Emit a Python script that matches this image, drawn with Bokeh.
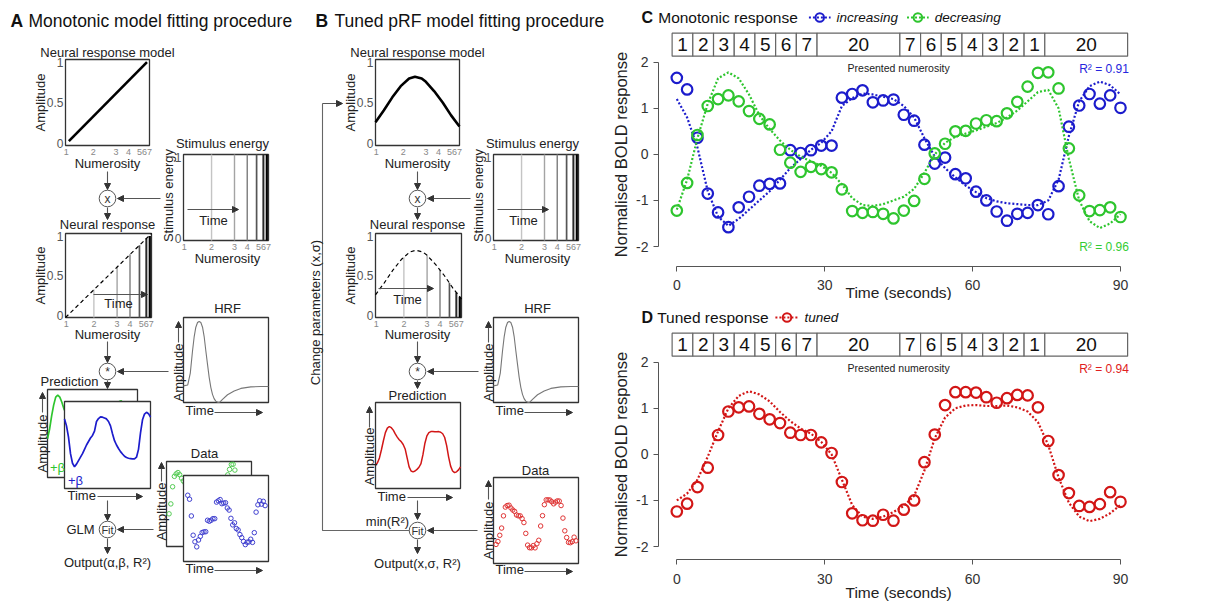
import numpy as np
from bokeh.plotting import figure
from bokeh.models import (Range1d, Arrow, NormalHead, ColumnDataSource, LinearAxis,
                          FixedTicker, CustomJSTickFormatter)
from bokeh.layouts import row, column
from bokeh.core.properties import value
from bokeh.embed import file_html
from bokeh.resources import INLINE

FONT = "Liberation Sans"

# ---------------- data ----------------
time_step = 90 / 43
time_s = [round(i * time_step, 3) for i in range(44)]

increasing_data = [1.66, 1.41, 0.36, -0.85, -1.26, -1.58, -1.15, -0.92, -0.68, -0.64,
                   -0.63, 0.09, 0.03, 0.09, 0.19, 0.19, 1.23, 1.31, 1.39, 1.13,
                   1.17, 1.19, 0.86, 0.73, 0.21, -0.20, -0.07, -0.43, -0.52, -0.81,
                   -1.00, -1.24, -1.44, -1.29, -1.27, -1.10, -1.30, -0.69, 0.60, 1.06,
                   1.31, 1.10, 1.28, 1.01]
increasing_fit = [1.2, 0.8, 0.15, -0.8, -1.35, -1.55, -1.4, -1.2, -1.0, -0.8,
                  -0.55, -0.3, -0.1, 0.1, 0.25, 0.5, 1.05, 1.22, 1.32, 1.3,
                  1.25, 1.2, 1.05, 0.8, 0.35, -0.05, -0.3, -0.5, -0.68, -0.82,
                  -0.95, -1.02, -1.06, -1.08, -1.1, -1.1, -1.0, -0.55, 0.4, 1.15,
                  1.48, 1.58, 1.5, 1.3]
decreasing_data = [-1.22, -0.62, 0.42, 1.05, 1.20, 1.28, 1.15, 0.94, 0.77, 0.65,
                   0.10, -0.18, -0.38, -0.27, -0.32, -0.39, -0.76, -1.23, -1.27, -1.25,
                   -1.29, -1.39, -1.22, -1.01, -0.53, 0.02, 0.23, 0.50, 0.51, 0.67,
                   0.74, 0.72, 0.89, 1.14, 1.47, 1.77, 1.78, 1.43, 0.13, -0.89,
                   -1.23, -1.21, -1.15, -1.36]
decreasing_fit = [-1.2, -0.55, 0.35, 1.1, 1.65, 1.78, 1.65, 1.3, 0.85, 0.55,
                  0.3, 0.1, -0.05, -0.15, -0.25, -0.4, -0.65, -0.95, -1.1, -1.12,
                  -1.08, -1.0, -0.92, -0.75, -0.4, 0.0, 0.25, 0.38, 0.45, 0.52,
                  0.6, 0.68, 0.8, 0.95, 1.15, 1.35, 1.4, 1.0, -0.1, -1.0,
                  -1.45, -1.6, -1.5, -1.3]
tuned_data = [-1.24, -1.07, -0.71, -0.29, 0.42, 0.93, 1.02, 1.04, 0.88, 0.76,
              0.68, 0.47, 0.42, 0.42, 0.26, 0.03, -0.60, -1.28, -1.43, -1.44,
              -1.31, -1.44, -1.20, -1.00, -0.17, 0.43, 1.07, 1.35, 1.35, 1.34,
              1.24, 1.12, 1.22, 1.29, 1.28, 1.02, 0.29, -0.45, -0.84, -1.12,
              -1.14, -1.08, -0.82, -1.03]
tuned_fit = [-1.0, -0.85, -0.55, -0.05, 0.5, 1.0, 1.27, 1.37, 1.3, 1.15,
             0.92, 0.72, 0.56, 0.45, 0.27, 0.0, -0.55, -1.1, -1.35, -1.4,
             -1.35, -1.25, -1.12, -0.9, -0.35, 0.35, 0.8, 1.0, 1.06, 1.07,
             1.05, 1.05, 1.06, 1.02, 0.93, 0.7, 0.2, -0.5, -1.05, -1.35,
             -1.45, -1.4, -1.28, -1.1]

numerosity_labels = ["1", "2", "3", "4", "5", "6", "7", "20",
                     "7", "6", "5", "4", "3", "2", "1", "20"]
numerosity_durations = [4.2] * 7 + [16.8] + [4.2] * 7 + [16.8]
numerosity_start = -0.95

y_ticks = [-2, -1, 0, 1, 2]
x_ticks = [0, 30, 60, 90]

# schematic panels (A, B)
numerosities = [1, 2, 3, 4, 5, 6, 7]
numerosity_axis_pos = [0.01, 0.33, 0.60, 0.75, 0.86, 0.94, 0.98]
stim_numerosities = [2, 3, 4, 5, 6, 7]
mono_model_pos = [0.04, 0.97]
mono_model_amp = [0.05, 0.97]
tuned_model_pos = [0.0, 0.1, 0.2, 0.3, 0.4, 0.47, 0.55, 0.6, 0.7, 0.8, 0.9, 1.0]
tuned_model_amp = [0.27, 0.41, 0.56, 0.69, 0.78, 0.80, 0.78, 0.74, 0.63, 0.50, 0.35, 0.22]
hrf_time = [0.0, 0.05, 0.08, 0.106, 0.126, 0.145, 0.165, 0.184, 0.204, 0.224, 0.243, 0.263,
            0.283, 0.302, 0.322, 0.341, 0.36, 0.38, 0.408, 0.43, 0.459, 0.518, 0.596,
            0.675, 0.792, 0.91, 1.0]
hrf_amp = [0.0, 0.01, 0.15, 0.41, 0.58, 0.69, 0.745, 0.757, 0.745, 0.69, 0.58, 0.41,
           0.25, 0.10, -0.02, -0.10, -0.15, -0.18, -0.196, -0.19, -0.16, -0.105, -0.06,
           -0.03, -0.012, -0.008, -0.008]

BLUE = "#1c1ccc"
GREEN = "#2ec52e"
RED = "#d21616"
STIM_COLORS = ["#c4c4c4", "#a4a4a4", "#848484", "#555555", "#2a2a2a", "#000000"]
STIM_WIDTHS = [1.4, 1.4, 1.5, 1.7, 2.0, 2.2]
ROT = np.pi / 2

# ====================== panels A & B (schematics) ======================
ab = figure(width=610, height=603, x_range=Range1d(0, 610), y_range=Range1d(603, 0),
            output_backend="svg", toolbar_location=None, min_border=0,
            x_axis_location=None, y_axis_location=None, outline_line_color=None)
ab.grid.grid_line_color = None

arrow_src = dict(x_start=[], y_start=[], x_end=[], y_end=[])


def arr(x0, y0, x1, y1):
    arrow_src["x_start"].append(x0)
    arrow_src["y_start"].append(y0)
    arrow_src["x_end"].append(x1)
    arrow_src["y_end"].append(y1)


def t(x, y, s, size=13, color="#222", align="center", baseline="middle", angle=0.0,
      style="normal", fig=None):
    f = ab if fig is None else fig
    f.text(x=[x], y=[y], text=[s], text_font=value(FONT), text_font_size=f"{size}px",
           text_color=color, text_align=align, text_baseline=baseline, angle=angle,
           text_font_style=style)


def box(b, lw=1.3):
    ab.quad(left=[b[0]], right=[b[0] + b[2]], top=[b[1]], bottom=[b[1] + b[3]],
            fill_color="white", line_color="#333", line_width=lw)


def bx(b, f):
    return b[0] + np.asarray(f, dtype=float) * b[2]


def by(b, f):
    return b[1] + b[3] * (1 - np.asarray(f, dtype=float))


def nf(n):
    return np.interp(n, numerosities, numerosity_axis_pos)


def circ(x, y, s, size=12):
    ab.circle(x=[x], y=[y], radius=8.3, fill_color="white", line_color="#555", line_width=1)
    t(x, y, s, size=size, color="#333")


def num_axes(b, ylabels=("1", "0.5", "0"), yfr=(0.97, 0.5, 0.02), lx=None):
    lx = b[0] - 2 if lx is None else lx
    for s, f in zip(ylabels, yfr):
        t(lx, float(by(b, f)), s, size=12, color="#555", align="right")
    for s, n in zip(["1", "2", "3", "4", "567"], [1, 2, 3, 4, 6]):
        t(float(bx(b, nf(n))), b[1] + b[3] + 6, s, size=9, color="#888")


def series_xy(b, vals, ylo, yhi, x0=0.0, x1=1.0):
    xf = x0 + (x1 - x0) * np.asarray(time_s) / 90.0
    yf = (np.asarray(vals) - ylo) / (yhi - ylo)
    return bx(b, xf), by(b, yf)


def panel(ox, tuned, letter, letter_x, title, title_x):
    cx = ox + 107
    M = (ox + 65, 59, 84, 86)
    N = (ox + 65, 233, 86, 84)
    S = (ox + 183, 154, 85, 86)
    H = (ox + 183, 317, 85, 85)
    mpos = tuned_model_pos if tuned else mono_model_pos
    mamp = tuned_model_amp if tuned else mono_model_amp

    t(letter_x, 20, letter, size=17.5, style="bold", align="left", color="#111")
    t(title_x, 20, title, size=17.5, align="left", color="#111")

    # neural response model
    t(cx, 52, "Neural response model")
    box(M)
    ab.line(bx(M, mpos), by(M, mamp), line_color="black", line_width=2.6)
    num_axes(M)
    t(ox + 40, 102, "Amplitude", angle=ROT)
    t(cx, 163, "Numerosity")
    arr(cx, 171, cx, 189)
    circ(cx, 198, "x")
    arr(ox + 160, 198, ox + 117, 198)
    arr(cx, 207, cx, 219)

    # stimulus energy
    t(ox + 222, 143, "Stimulus energy")
    box(S)
    spos = nf(stim_numerosities)
    ab.segment(x0=bx(S, spos), y0=[by(S, 0)] * 6, x1=bx(S, spos), y1=[by(S, 1)] * 6,
               line_color=STIM_COLORS, line_width=STIM_WIDTHS)
    arr(ox + 187, 209, ox + 238, 209)
    t(ox + 213, 220, "Time")
    num_axes(S, ylabels=("1", "0"), yfr=(0.97, 0.02), lx=ox + 181)
    t(ox + 168, 195, "Stimulus energy", angle=ROT)
    t(ox + 227, 258, "Numerosity")

    # neural response
    t(cx, 224, "Neural response")
    box(N)
    heights = np.interp(spos, mpos, mamp)
    ab.segment(x0=bx(N, spos), y0=[by(N, 0)] * 6, x1=bx(N, spos), y1=by(N, heights),
               line_color=STIM_COLORS, line_width=STIM_WIDTHS)
    if tuned:
        ab.line(bx(N, mpos), by(N, mamp), line_color="black", line_width=1.2, line_dash="4 3")
        arr(ox + 68, 288, ox + 123, 288)
        t(ox + 97, 299, "Time")
    else:
        ab.line(bx(N, [0.0, 1.0]), by(N, [0.0, 1.0]), line_color="black", line_width=1.2,
                line_dash="4 3")
        arr(ox + 93, 294, ox + 147, 294)
        t(ox + 118, 303, "Time")
    num_axes(N)
    t(ox + 40, 275, "Amplitude", angle=ROT)
    t(cx, 334, "Numerosity")

    # HRF
    t(ox + 227, 308, "HRF")
    box(H)
    ab.line(bx(H, hrf_time), by(H, 0.196 + np.asarray(hrf_amp)), line_color="#777",
            line_width=1.1)
    t(ox + 178, 372, "Amplitude", angle=ROT)
    arr(ox + 178, 342, ox + 178, 321)
    t(ox + 185, 410, "Time", align="left")
    arr(ox + 214, 412, ox + 262, 412)

    # convolution
    arr(cx, 341, cx, 362)
    circ(cx, 371, "*")
    arr(ox + 168, 371, ox + 117, 371)
    arr(cx, 380, cx, 388)


# ---- Panel A ----
panel(0, False, "A", 10, "Monotonic model fitting procedure", 28)
PB = (47, 389, 90, 88)
PF = (64, 401, 86, 87)
t(69, 381, "Prediction")
box(PB)
xs, ys = series_xy(PB, decreasing_fit, -3.85, 2.17, 0.0, 0.98)
ab.line(xs, ys, line_color=GREEN, line_width=1.7)
box(PF)
xs, ys = series_xy(PF, increasing_fit, -2.8, 2.2)
ab.line(xs, ys, line_color=BLUE, line_width=1.7)
t(57, 467, "+β", color=GREEN)
t(75, 480, "+β", color=BLUE)
t(42, 443, "Amplitude", angle=ROT)
arr(42, 412, 42, 392)
t(67, 495, "Time", align="left")
arr(97, 496, 142, 496)
arr(107, 500, 107, 520)
t(80, 529, "GLM")
circ(107, 529, "Fit", size=11)
arr(153, 529, 117, 529)
arr(107, 538, 107, 553)
t(107, 562, "Output(α,β, R²)")

DB = (166, 461, 85, 85)
DF = (183, 475, 85, 86)
t(204, 453, "Data")
box(DB)
xs, ys = series_xy(DB, decreasing_data, -3.2, 1.95, 0.03, 0.93)
ab.scatter(xs, ys, marker="circle", size=4.5, fill_color=None, line_color="#55cc55", line_width=1)
box(DF)
xs, ys = series_xy(DF, increasing_data, -2.5, 2.9, 0.05, 0.96)
ab.scatter(xs, ys, marker="circle", size=4.5, fill_color=None, line_color="#4040d0", line_width=1)
t(161, 511, "Amplitude", angle=ROT)
arr(161, 481, 161, 462)
t(185, 568, "Time", align="left")
arr(214, 570, 262, 570)

# ---- Panel B ----
ox = 310
panel(ox, True, "B", 315, "Tuned pRF model fitting procedure", 334)
PR = (ox + 65, 402, 85, 86)
t(ox + 107, 395, "Prediction")
box(PR)
xs, ys = series_xy(PR, tuned_fit, -2.42, 2.84)
ab.line(xs, ys, line_color=RED, line_width=1.5)
t(ox + 59, 456, "Amplitude", angle=ROT)
arr(ox + 59, 427, ox + 59, 406)
t(ox + 67, 496, "Time", align="left")
arr(ox + 97, 497, ox + 142, 497)
arr(ox + 107, 500, ox + 107, 519)
t(ox + 77, 521, "min(R²)")
circ(ox + 107, 530, "Fit", size=11)
arr(ox + 167, 530, ox + 117, 530)
arr(ox + 107, 539, ox + 107, 553)
t(ox + 107, 563, "Output(x,σ, R²)")
ab.line([ox + 99, ox + 12, ox + 12], [530, 530, 103], line_color="#666", line_width=1.1)
arr(ox + 12, 103, ox + 32, 103)
t(ox + 5, 312, "Change parameters (x,σ)", angle=ROT)

DR = (ox + 183, 477, 85, 86)
t(ox + 225, 470, "Data")
box(DR)
xs, ys = series_xy(DR, tuned_data, -2.35, 2.65, 0.03, 0.97)
ab.scatter(xs, ys, marker="circle", size=4.5, fill_color=None, line_color="#e03535", line_width=1)
t(ox + 178, 530, "Amplitude", angle=ROT)
arr(ox + 178, 499, ox + 178, 480)
t(ox + 185, 569, "Time", align="left")
arr(ox + 214, 571, ox + 262, 571)

ab.add_layout(Arrow(end=NormalHead(size=6, fill_color="#333", line_color="#333", line_width=1),
                    source=ColumnDataSource(arrow_src), x_start="x_start", y_start="y_start",
                    x_end="x_end", y_end="y_end", line_color="#555", line_width=1.1))


# ====================== panels C & D (responses) ======================
def response_panel(height, letter, title, title_x, series, legend, r2, xaxis_y, xlabel_y):
    ybot = 2 - (height - 61.7) / 46.08
    p = figure(width=596, height=height, x_range=Range1d(-13.45, 107.45),
               y_range=Range1d(ybot, 3.339), output_backend="svg", toolbar_location=None,
               min_border=0, x_axis_location=None, y_axis_location=None,
               outline_line_color=None)
    p.grid.grid_line_color = None
    fmt = CustomJSTickFormatter(code="return (tick < 0 ? '-' : '') + Math.abs(tick).toString();")
    common = dict(axis_line_color="#555", major_tick_line_color="#555", major_tick_out=5,
                  major_tick_in=0, minor_tick_line_color=None, major_label_text_font=FONT,
                  major_label_text_font_size="14px", major_label_text_color="#333",
                  axis_label_text_font=FONT, axis_label_text_font_style="normal",
                  axis_label_text_color="#222")
    yax = LinearAxis(fixed_location=-3.71, bounds=(-2, 2), ticker=FixedTicker(ticks=y_ticks),
                     formatter=fmt, axis_label="Normalised BOLD response",
                     axis_label_text_font_size="16.5px", axis_label_standoff=3,
                     major_label_standoff=5, **common)
    p.add_layout(yax, "left")
    xax = LinearAxis(fixed_location=xaxis_y, bounds=(0, 90), ticker=FixedTicker(ticks=x_ticks),
                     formatter=fmt, major_label_standoff=9, **common)
    p.add_layout(xax, "below")

    # numerosity strip
    edges = numerosity_start + np.concatenate([[0.0], np.cumsum(numerosity_durations)])
    p.quad(left=edges[:-1], right=edges[1:], bottom=2.13, top=2.63, fill_color="white",
           line_color="#666", line_width=1.2)
    p.text(x=(edges[:-1] + edges[1:]) / 2, y=[2.375] * len(numerosity_labels),
           text=numerosity_labels, text_font=value(FONT), text_font_size="19px",
           text_color="#111", text_align="center", text_baseline="middle")
    t(45, 1.87, "Presented numerosity", size=10.5, color="#222", fig=p)

    for vals, fit, color in series:
        p.line(time_s, fit, line_color=color, line_width=2.2, line_dash="2 2")
        p.scatter(time_s, vals, marker="circle", size=10.5, fill_color=None,
                  line_color=color, line_width=2.2)

    # title + inline legend
    t(-7.16, 2.97, letter, size=16, style="bold", align="left", color="#111", fig=p)
    t(title_x, 2.97, title, size=15.5, align="left", color="#111", fig=p)
    for x0, x1, label, color in legend:
        p.line([x0, x1], [2.97, 2.97], line_color=color, line_width=2, line_dash="2 2")
        p.scatter([(x0 + x1) / 2], [2.97], marker="circle", size=8.5, fill_color=None,
                  line_color=color, line_width=2)
        t(x1 + 1.2, 2.97, label, size=13.5, style="italic", align="left", color="#111", fig=p)
    for yv, label, color in r2:
        t(91.7, yv, label, size=12, color=color, align="right", fig=p)
    t(45, xlabel_y, "Time (seconds)", size=15.5, color="#222", fig=p)
    return p


pc = response_panel(300, "C", "Monotonic response", -3.77,
                    [(increasing_data, increasing_fit, BLUE), (decreasing_data, decreasing_fit, GREEN)],
                    [(26.8, 31.2, "increasing", BLUE), (46.7, 51.1, "decreasing", GREEN)],
                    [(1.85, "R² = 0.91", "#2626dd"), (-2.01, "R² = 0.96", "#33cc33")],
                    -2.427, -2.99)
pd_ = response_panel(303, "D", "Tuned response", -3.98,
                     [(tuned_data, tuned_fit, RED)],
                     [(20.0, 24.7, "tuned", RED)],
                     [(1.85, "R² = 0.94", "#e02020")],
                     -2.288, -2.99)

layout = row(ab, column(pc, pd_))
open("out.html", "w").write(file_html(layout, INLINE))
